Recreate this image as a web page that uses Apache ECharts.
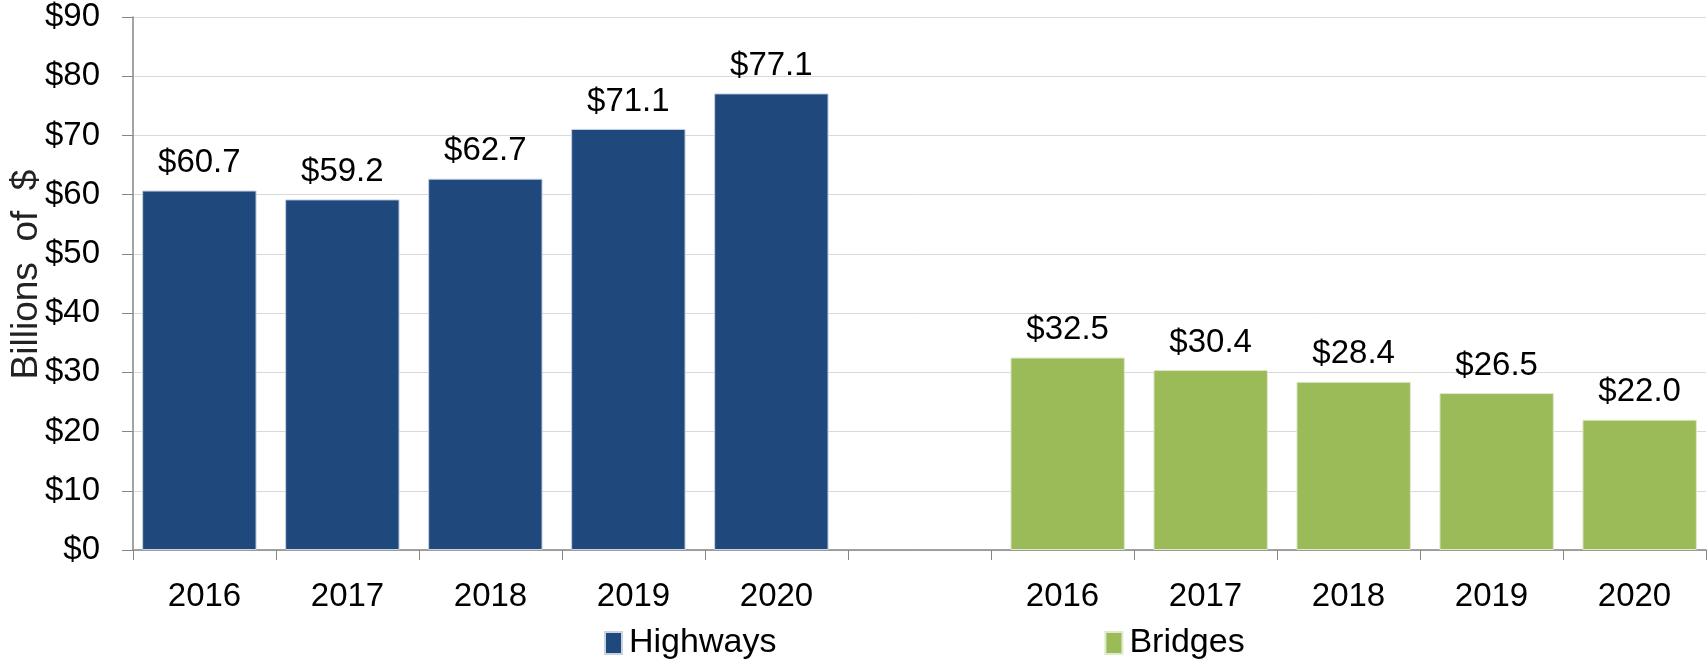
<!DOCTYPE html>
<html>
<head>
<meta charset="utf-8">
<script src="https://cdn.jsdelivr.net/npm/echarts@6/dist/echarts.min.js"></script>
<style>
  html, body { margin: 0; padding: 0; background: #fff; }
  #chart { width: 1708px; height: 665px; }
</style>
</head>
<body>
<div id="chart"></div>
<script>
var years = ["2016", "2017", "2018", "2019", "2020"];
var highways = [60.7, 59.2, 62.7, 71.1, 77.1];
var bridges = [32.5, 30.4, 28.4, 26.5, 22.0];
var yTicks = [0, 10, 20, 30, 40, 50, 60, 70, 80, 90];

// one empty slot between the two groups
var categories = years.concat([""]).concat(years);
var gap = ["-", "-", "-", "-", "-", "-"];
var highwaysData = highways.concat(gap);
var bridgesData = gap.concat(bridges);

var font = "Liberation Sans";

function dollar(p) {
  return "$" + p.value.toFixed(1);
}

var chart = echarts.init(document.getElementById("chart"));
chart.setOption({
  animation: false,
  grid: { left: 133, right: 2, top: 17, bottom: 115, containLabel: false, outerBoundsMode: "none" },
  legend: {
    left: 599,
    top: 621,
    itemGap: 328,
    itemWidth: 17,
    itemHeight: 22,
    icon: "rect",
    textStyle: { fontFamily: font, fontSize: 34, color: "#000", padding: [0, 0, 0, 2] },
    data: ["Highways", "Bridges"]
  },
  xAxis: {
    type: "category",
    data: categories,
    axisLine: { lineStyle: { color: "#868686", width: 1.5 } },
    axisTick: { show: true, length: 10, lineStyle: { color: "#868686" } },
    axisLabel: { fontFamily: font, fontSize: 33, color: "#000", margin: 30 }
  },
  yAxis: {
    type: "value",
    min: yTicks[0],
    max: yTicks[yTicks.length - 1],
    interval: 10,
    name: "Billions  of  $",
    nameLocation: "middle",
    nameGap: 88,
    nameMoveOverlap: false,
    nameTextStyle: { fontFamily: font, fontSize: 37, color: "#222", padding: [0, 0, 0, 18] },
    axisLine: { show: true, lineStyle: { color: "#868686", width: 1.5 } },
    axisTick: { show: true, length: 11, lineStyle: { color: "#868686" } },
    splitLine: { lineStyle: { color: "#d9d9d9" } },
    axisLabel: {
      fontFamily: font, fontSize: 33, color: "#000", margin: 33,
      formatter: function (v) { return "$" + v; }
    }
  },
  series: [
    {
      name: "Highways",
      type: "bar",
      data: highwaysData,
      barWidth: "80%",
      barGap: "-91%",
      itemStyle: { color: "#1f497d", borderColor: "#c8d2e0", borderWidth: 1 },
      label: {
        show: true, position: "top", distance: 11,
        fontFamily: font, fontSize: 33, color: "#000",
        formatter: dollar
      }
    },
    {
      name: "Bridges",
      type: "bar",
      data: bridgesData,
      barWidth: "80%",
      barGap: "-91%",
      itemStyle: { color: "#9bbb59", borderColor: "#dfe9cc", borderWidth: 1 },
      label: {
        show: true, position: "top", distance: 11,
        fontFamily: font, fontSize: 33, color: "#000",
        formatter: dollar
      }
    }
  ]
});
</script>
</body>
</html>
